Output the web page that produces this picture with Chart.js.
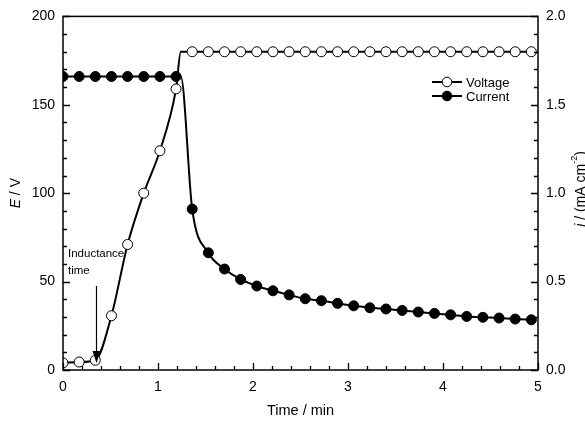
<!DOCTYPE html>
<html>
<head>
<meta charset="utf-8">
<script src="https://cdn.jsdelivr.net/npm/chart.js@4"></script>
<style>
  html, body { margin: 0; padding: 0; background: #fff; }
  #wrap { width: 585px; height: 421px; }
</style>
</head>
<body>
<div id="wrap"><canvas id="myChart" width="585" height="421"></canvas></div>
<script>
// valori
const times = [0, 0.17, 0.34, 0.51, 0.68, 0.85, 1.02, 1.19, 1.36, 1.53, 1.70, 1.87, 2.04, 2.21, 2.38,
    2.55, 2.72, 2.89, 3.06, 3.23, 3.40, 3.57, 3.74, 3.91, 4.08, 4.25, 4.42, 4.59, 4.76, 4.93];
const voltage = [4, 4.5, 5.5, 30.7, 71, 100, 124, 159, 180, 180, 180, 180, 180, 180, 180,
    180, 180, 180, 180, 180, 180, 180, 180, 180, 180, 180, 180, 180, 180, 180];
const current = [1.66, 1.66, 1.66, 1.66, 1.66, 1.66, 1.66, 1.66, 0.91, 0.663, 0.571, 0.512, 0.475, 0.448, 0.425,
    0.403, 0.392, 0.377, 0.363, 0.352, 0.345, 0.337, 0.328, 0.320, 0.312, 0.303, 0.298, 0.294, 0.288, 0.284];
// punto di ginocchio della curva (senza marcatore)
const kneeTime = 1.24;
const voltageKnee = 180;
const currentKnee = 1.66;

const xTicks = [0, 1, 2, 3, 4, 5];
const eTicks = [0, 50, 100, 150, 200];
const iTicks = [0, 0.5, 1.0, 1.5, 2.0];

const FONT = "'Liberation Sans', Arial, sans-serif";

function buildData(values, kneeValue) {
    let pts = times.map((t, k) => ({ x: t, y: values[k] }));
    pts.push({ x: kneeTime, y: kneeValue, knee: true });
    pts.sort((a, b) => a.x - b.x);
    return pts;
}

// cornice, tacche, titoli, legenda e nota
const decor = {
    id: 'decor',
    afterDraw(chart) {
        const c = chart.ctx;
        const a = chart.chartArea;
        const sx = chart.scales.x, sy = chart.scales.y, si = chart.scales.y1;
        c.save();
        c.strokeStyle = '#000';
        c.lineWidth = 1.3;

        // tacche
        c.beginPath();
        for (let k = 0; k <= 25; k++) {
            const v = k * 0.2;
            const px = Math.round(sx.getPixelForValue(v)) + 0.5;
            const len = (k % 5 === 0) ? 7 : 4;
            c.moveTo(px, a.bottom); c.lineTo(px, a.bottom - len);
        }
        for (let k = 0; k <= 20; k++) {
            const py = Math.round(sy.getPixelForValue(k * 10)) + 0.5;
            const len = (k % 5 === 0) ? 7 : 4;
            c.moveTo(a.left, py); c.lineTo(a.left + len, py);
        }
        for (let k = 0; k <= 20; k++) {
            const py = Math.round(si.getPixelForValue(k * 0.1)) + 0.5;
            const len = (k % 5 === 0) ? 7 : 4;
            c.moveTo(a.right, py); c.lineTo(a.right - len, py);
        }
        c.stroke();

        // cornice
        c.lineWidth = 1.5;
        c.strokeRect(a.left, a.top, a.right - a.left, a.bottom - a.top);

        // titoli assi
        c.fillStyle = '#000';
        c.font = '14.5px ' + FONT;
        c.textAlign = 'center';
        c.textBaseline = 'middle';
        c.fillText('Time / min', (a.left + a.right) / 2, 411);

        c.save();
        c.translate(16, (a.top + a.bottom) / 2);
        c.rotate(-Math.PI / 2);
        c.textAlign = 'left';
        c.font = 'italic 14px ' + FONT;
        let w1 = c.measureText('E').width;
        c.font = '14px ' + FONT;
        let w2 = c.measureText(' / V').width;
        let x0 = -(w1 + w2) / 2;
        c.font = 'italic 14px ' + FONT;
        c.fillText('E', x0, 0);
        c.font = '14px ' + FONT;
        c.fillText(' / V', x0 + w1, 0);
        c.restore();

        c.save();
        c.translate(581, 189);
        c.rotate(-Math.PI / 2);
        c.textAlign = 'left';
        c.font = 'italic 14px ' + FONT;
        w1 = c.measureText('i').width;
        c.font = '14px ' + FONT;
        w2 = c.measureText(' / (mA cm').width;
        c.font = '9px ' + FONT;
        let w3 = c.measureText('-2').width;
        c.font = '14px ' + FONT;
        let w4 = c.measureText(')').width;
        x0 = -(w1 + w2 + w3 + w4) / 2;
        c.font = 'italic 14px ' + FONT;
        c.fillText('i', x0, 0);
        c.font = '14px ' + FONT;
        c.fillText(' / (mA cm', x0 + w1, 0);
        c.font = '9px ' + FONT;
        c.fillText('-2', x0 + w1 + w2, -6);
        c.font = '14px ' + FONT;
        c.fillText(')', x0 + w1 + w2 + w3, 0);
        c.restore();

        // legenda
        const rows = [['Voltage', '#fff', 82], ['Current', '#000', 96]];
        c.font = '13px ' + FONT;
        c.textAlign = 'left';
        rows.forEach(r => {
            c.lineWidth = 2;
            c.beginPath();
            c.moveTo(432, r[2]); c.lineTo(462, r[2]);
            c.stroke();
            c.beginPath();
            c.arc(447, r[2], 4.8, 0, Math.PI * 2);
            c.fillStyle = r[1];
            c.fill();
            c.lineWidth = 1;
            c.stroke();
            c.fillStyle = '#000';
            c.fillText(r[0], 466, r[2] + 1);
        });

        // nota "Inductance time"
        c.font = '11.5px ' + FONT;
        c.fillText('Inductance', 68, 254);
        c.fillText('time', 68, 271);
        const ax = Math.round(sx.getPixelForValue(0.35)) + 0.5;
        const ay0 = sy.getPixelForValue(47.5);
        const ay1 = sy.getPixelForValue(4);
        c.lineWidth = 1.2;
        c.beginPath();
        c.moveTo(ax, ay0); c.lineTo(ax, ay1 - 8);
        c.stroke();
        c.beginPath();
        c.moveTo(ax, ay1); c.lineTo(ax - 4, ay1 - 12); c.lineTo(ax + 4, ay1 - 12);
        c.closePath();
        c.fill();
        c.restore();
    }
};

Chart.defaults.font.family = FONT;
Chart.defaults.font.size = 14;
Chart.defaults.color = '#000';

const ctx = document.getElementById('myChart');
const myChart = new Chart(ctx, {
    type: 'line',
    data: {
        datasets: [{
            label: 'Voltage',
            data: buildData(voltage, voltageKnee),
            yAxisID: 'y',
            borderColor: '#000',
            borderWidth: 2,
            backgroundColor: '#fff',
            pointBackgroundColor: '#fff',
            pointBorderColor: '#000',
            pointBorderWidth: 1,
            pointRadius: c => (c.raw && c.raw.knee) ? 0 : 5,
            cubicInterpolationMode: 'monotone',
            fill: false,
        }, {
            label: 'Current',
            data: buildData(current, currentKnee),
            yAxisID: 'y1',
            borderColor: '#000',
            borderWidth: 2,
            backgroundColor: '#000',
            pointBackgroundColor: '#000',
            pointBorderColor: '#000',
            pointBorderWidth: 1,
            pointRadius: c => (c.raw && c.raw.knee) ? 0 : 5,
            cubicInterpolationMode: 'monotone',
            fill: false,
        }]
    },
    options: {
        responsive: false,
        animation: false,
        events: [],
        layout: { padding: { top: 16, right: 0, left: 0, bottom: 0 } },
        plugins: { legend: { display: false }, tooltip: { enabled: false } },
        scales: {
            x: {
                type: 'linear', min: 0, max: 5,
                afterBuildTicks: s => { s.ticks = xTicks.map(v => ({ value: v })); },
                afterFit: s => { s.height = 51; },
                grid: { display: false, drawTicks: false },
                border: { display: false },
                ticks: { padding: 9, maxRotation: 0, font: { size: 14 } }
            },
            y: {
                position: 'left', min: 0, max: 200,
                afterBuildTicks: s => { s.ticks = eTicks.map(v => ({ value: v })); },
                afterFit: s => { s.width = 63; },
                grid: { display: false, drawTicks: false },
                border: { display: false },
                ticks: { padding: 8, font: { size: 14 } }
            },
            y1: {
                position: 'right', min: 0, max: 2,
                afterBuildTicks: s => { s.ticks = iTicks.map(v => ({ value: v })); },
                afterFit: s => { s.width = 47; },
                grid: { display: false, drawTicks: false },
                border: { display: false },
                ticks: { padding: 8, font: { size: 14 }, callback: v => v.toFixed(1) }
            }
        }
    },
    plugins: [decor]
});
</script>
</body>
</html>
